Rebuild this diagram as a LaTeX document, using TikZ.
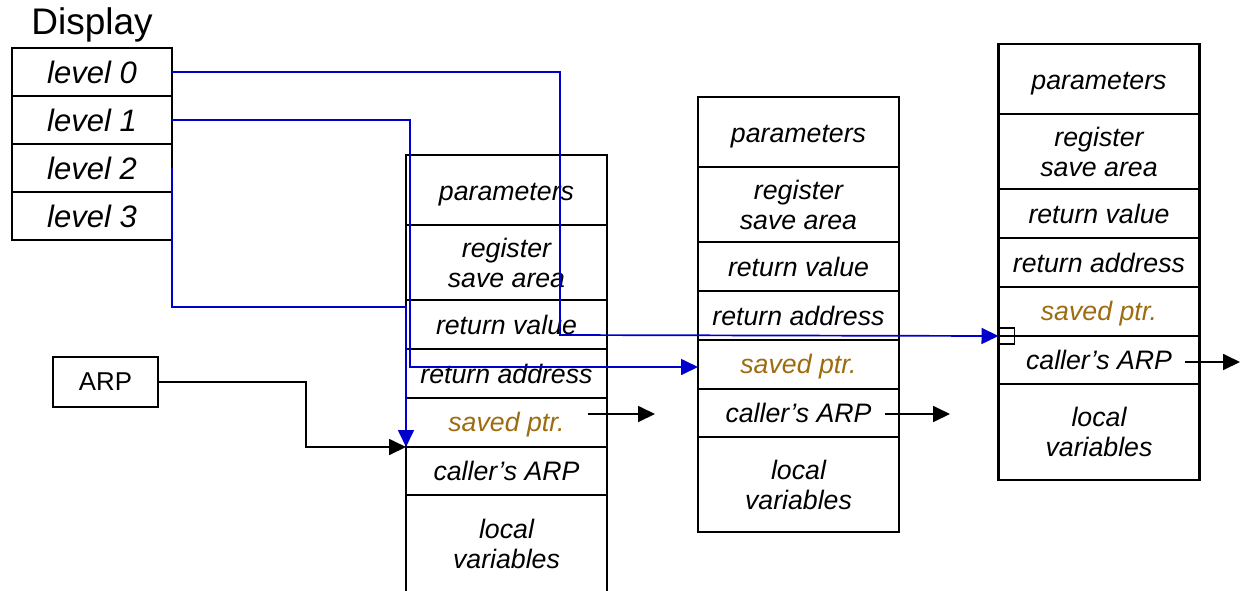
\documentclass[tikz,border=0pt]{standalone}
\usepackage{fontspec}
\setmainfont{Liberation Sans}
\usetikzlibrary{arrows.meta}
\definecolor{ptrblue}{RGB}{0,0,205}
\definecolor{savedbrown}{RGB}{158,108,16}
\tikzset{
  cell/.style={draw, line width=2.5pt, inner sep=0pt, outer sep=0pt, align=center,
    font=\fontsize{26.7}{30}\selectfont\itshape},
  row/.style={cell, minimum width=201pt, anchor=north},
  disp/.style={draw, line width=2.2pt, inner sep=0pt, outer sep=0pt, minimum width=160pt,
    minimum height=48pt, font=\fontsize{31}{34}\selectfont\itshape},
  ptr/.style={draw=ptrblue, line width=1.7pt, -{Triangle[length=17pt,width=16pt]}},
  link/.style={draw=black, line width=1.8pt, -{Triangle[length=17pt,width=16pt]}},
}
% one activation record: #1 name prefix, #2 centre x, #3 top y, #4 height of the last row
\newcommand\arframe[4]{%
  \node[row, minimum height=70pt, text height=27.5pt, text depth=5.6pt] (#1p) at (#2,#3) {parameters};
  \node[row, minimum height=75pt] (#1r) at (#1p.south) {register\\save area};
  \node[row, minimum height=49pt] (#1v) at (#1r.south) {return value};
  \node[row, minimum height=49pt] (#1a) at (#1v.south) {return address};
  \node[row, minimum height=49pt, text=savedbrown, text height=23.5pt, text depth=5.6pt] (#1s) at (#1a.south) {saved ptr.};
  \node[row, minimum height=48pt] (#1c) at (#1s.south) {caller’s ARP};
  \node[row, minimum height=#4] (#1l) at (#1c.south) {local\\variables};
}
\begin{document}
\begin{tikzpicture}[x=1pt, y=-1pt]
\clip (0,0) rectangle (1240,590);

% display
\node[font=\fontsize{37}{40}\selectfont] (dtitle) at (92,25) {Display};
\node[disp] (d0) at (92,72) {level 0};
\node[disp] (d1) at (92,120) {level 1};
\node[disp] (d2) at (92,168) {level 2};
\node[disp] (d3) at (92,216) {level 3};

% ARP register
\node[draw, line width=2.2pt, inner sep=0pt, outer sep=0pt, minimum width=105pt,
  minimum height=50pt, font=\fontsize{25.8}{28}\selectfont] (arp) at (105.5,382) {ARP};

% activation records
\arframe{fa}{506.5}{155}{98pt}
\arframe{fb}{798.5}{97}{95pt}
\arframe{fc}{1099}{44}{96pt}

% marker on the third record
\node[draw, line width=1.5pt, minimum size=16pt, inner sep=0pt, outer sep=0pt,
  anchor=west] (sq) at (fcs.south west) {};

% bends of the display links
\coordinate (b0) at (560,335);
\coordinate (b1) at (410,367);
\coordinate (b2) at (406,307);
\coordinate (b3) at (306,400);

\draw[ptr] (d0.east) -| (b0) -- (sq.west);
\draw[ptr] (d1.east) -| (b1) -- (fbs.west |- b1);
\draw[ptr] (d2.east) |- (b2) -- (fas.south west);
\draw[link] (arp.east) -| (b3) |- (fas.south west);

% outgoing links
\coordinate (s1) at (588,414);
\coordinate (e1) at (655,414);
\coordinate (s2) at (885,414);
\coordinate (e2) at (950,414);
\coordinate (s3) at (1185,362);
\coordinate (e3) at (1240,362);
\draw[link] (s1) -- (e1);
\draw[link] (s2) -- (e2);
\draw[link] (s3) -- (e3);
\end{tikzpicture}
\end{document}
